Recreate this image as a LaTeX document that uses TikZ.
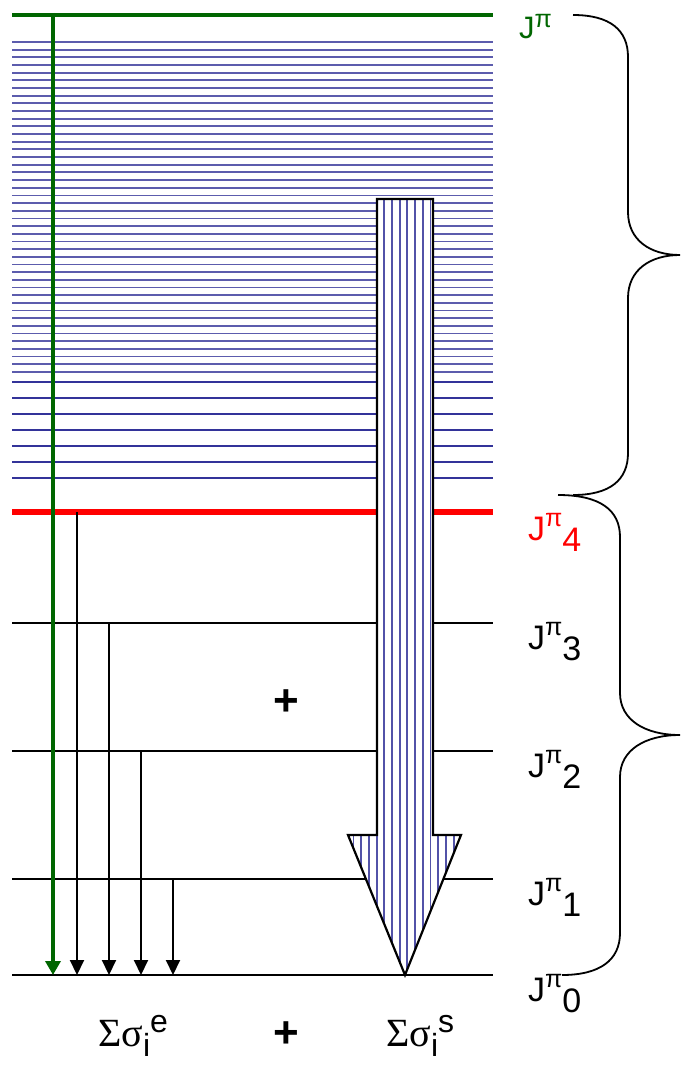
\documentclass[tikz,border=0pt]{standalone}
\usepackage{fontspec}
\setmainfont{Liberation Sans}
\newfontfamily\symfont{Liberation Serif}
\usetikzlibrary{arrows.meta}
\definecolor{lvlblue}{RGB}{51,51,153}
\definecolor{dgreen}{RGB}{0,102,0}
\definecolor{lred}{RGB}{255,0,0}
\begin{document}
\begin{tikzpicture}[x=1pt,y=-1pt,
  thinlvl/.style={draw=lvlblue!80, line width=1.8pt},
  thicklvl/.style={draw=lvlblue, line width=2.6pt},
  blacklvl/.style={draw=black, line width=2pt},
  greenlvl/.style={draw=dgreen, line width=4pt},
  redlvl/.style={draw=lred, line width=6.5pt},
  decay/.style={draw=black, line width=2pt, -{Triangle[length=15pt,width=14pt]}},
  gdecay/.style={draw=dgreen, line width=3.4pt, -{Triangle[length=14pt,width=15pt]}},
  brace/.style={draw=black, line width=1.8pt},
  lbl/.style={inner sep=0pt, anchor=base west},
  jfont/.style={font=\fontsize{34}{34}\selectfont},
  plusfont/.style={font=\fontsize{44}{44}\selectfont\bfseries, inner sep=0pt}
]
\useasboundingbox (0,0) rectangle (682,1065);

% quasi-continuum of levels
\foreach \i in {0,...,43} { \draw[thinlvl] (12,42+7.67*\i) -- (493,42+7.67*\i); }
\foreach \i in {0,...,6} { \draw[thicklvl] (12,382+16*\i) -- (493,382+16*\i); }

% discrete levels
\draw[greenlvl] (12,15) -- (493,15);
\draw[redlvl] (12,512) -- (493,512);
\foreach \yy in {623,751,879,975} { \draw[blacklvl] (12,\yy) -- (493,\yy); }

% decay arrows
\coordinate (gs) at (53,13);
\coordinate (ge) at (53,975);
\coordinate (a4s) at (77,512);
\coordinate (a4e) at (77,975);
\coordinate (a3s) at (109,623);
\coordinate (a3e) at (109,975);
\coordinate (a2s) at (141,751);
\coordinate (a2e) at (141,975);
\coordinate (a1s) at (173,879);
\coordinate (a1e) at (173,975);
\draw[gdecay] (gs) -- (ge);
\draw[decay] (a4s) -- (a4e);
\draw[decay] (a3s) -- (a3e);
\draw[decay] (a2s) -- (a2e);
\draw[decay] (a1s) -- (a1e);

% big striped arrow
\begin{scope}
  \clip (377,199) -- (433,199) -- (433,835) -- (461,835) -- (405,975) -- (348,835) -- (377,835) -- cycle;
  \fill[white] (340,190) rectangle (470,980);
  \foreach \i in {0,...,15} { \draw[lvlblue!85, line width=1.9pt] (345.8+7.7*\i,190) -- ++(0,790); }
\end{scope}
\draw[line width=2.2pt, line join=miter] (377,199) -- (433,199) -- (433,835) -- (461,835) -- (405,975) -- (348,835) -- (377,835) -- cycle;

% braces
\draw[brace] (573,15) .. controls (610,15) and (628,30) .. (628,57) -- (628,212)
  .. controls (628,240) and (650,255) .. (680,255)
  .. controls (650,255) and (628,270) .. (628,298) -- (628,453)
  .. controls (628,480) and (610,495) .. (573,495);
\draw[brace] (558,495) .. controls (600,495) and (620,510) .. (620,537) -- (620,693)
  .. controls (620,720) and (645,735) .. (680,735)
  .. controls (645,735) and (620,750) .. (620,777) -- (620,933)
  .. controls (620,960) and (600,975) .. (562,975);

% level labels
\node[lbl, text=dgreen, font=\fontsize{31}{31}\selectfont] (jtop) at (519,39) {J\raisebox{11pt}{\fontsize{25}{25}\selectfont π}};
\node[lbl, jfont, text=lred] (j4) at (528,540) {J\raisebox{14pt}{\fontsize{25}{25}\selectfont π}\raisebox{-11pt}{4}};
\node[lbl, jfont] (j3) at (528,649) {J\raisebox{14pt}{\fontsize{25}{25}\selectfont π}\raisebox{-11pt}{3}};
\node[lbl, jfont] (j2) at (528,777) {J\raisebox{14pt}{\fontsize{25}{25}\selectfont π}\raisebox{-11pt}{2}};
\node[lbl, jfont] (j1) at (528,905) {J\raisebox{14pt}{\fontsize{25}{25}\selectfont π}\raisebox{-11pt}{1}};
\node[lbl, jfont] (j0) at (528,1001) {J\raisebox{14pt}{\fontsize{25}{25}\selectfont π}\raisebox{-11pt}{0}};

% plus signs
\node[plusfont] (plusmid) at (286,703) {+};
\node[plusfont] (plusbot) at (286,1035) {+};

% sums
\node[lbl, font=\fontsize{40}{40}\selectfont] (sume) at (98,1046) {{\symfont Σσ}\raisebox{-10pt}{\fontsize{32}{32}\selectfont i}\raisebox{14pt}{\fontsize{32}{32}\selectfont e}};
\node[lbl, font=\fontsize{40}{40}\selectfont] (sums) at (386,1046) {{\symfont Σσ}\raisebox{-10pt}{\fontsize{32}{32}\selectfont i}\raisebox{14pt}{\fontsize{32}{32}\selectfont s}};
\end{tikzpicture}
\end{document}
